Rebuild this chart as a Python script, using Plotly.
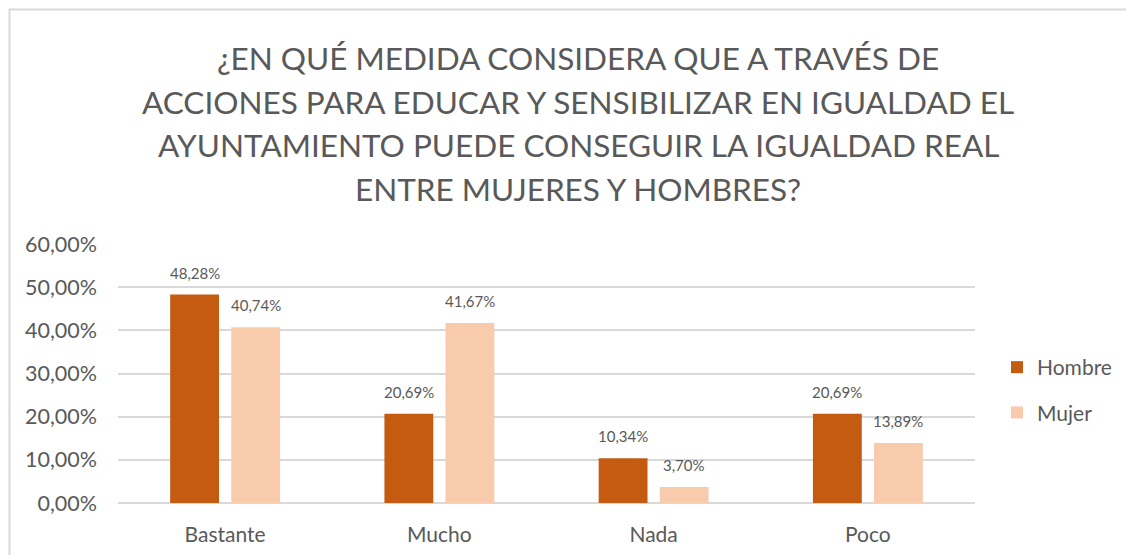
import plotly.graph_objects as go

categories = ["Bastante", "Mucho", "Nada", "Poco"]
hombre = [0.4828, 0.2069, 0.1034, 0.2069]
mujer = [0.4074, 0.4167, 0.0370, 0.1389]
series_names = ["Hombre", "Mujer"]
title_lines = [
    "¿EN QUÉ MEDIDA CONSIDERA QUE A TRAVÉS DE",
    "ACCIONES PARA EDUCAR Y SENSIBILIZAR EN IGUALDAD EL",
    "AYUNTAMIENTO PUEDE CONSEGUIR LA IGUALDAD REAL",
    "ENTRE MUJERES Y HOMBRES?",
]

# page body has an 8px margin; work in screenshot pixel coordinates
OX, OY = 8, 8
W, H = 1134 - OX, 555 - OY
PLOT_L, PLOT_R, PLOT_T, PLOT_B = 118, 975, 244, 503  # screenshot pixels
ML, MT = PLOT_L - OX, PLOT_T - OY
MR, MB = W - (PLOT_R - OX), H - (PLOT_B - OY)
PW, PH = PLOT_R - PLOT_L, PLOT_B - PLOT_T

def px_x(x):
    return (x - PLOT_L) / PW

def px_y(y):
    return (PLOT_B - y) / PH

FONT = "Lato"
GRAY = "#595959"
COLORS = ["#C55A11", "#F8CBAD"]

fig = go.Figure()
for name, vals, col in zip(series_names, [hombre, mujer], COLORS):
    fig.add_trace(go.Bar(name=name, x=categories, y=vals, marker_color=col,
                         marker_line_width=0, legendgroup=name))

annotations = []
for vals, shift in [(hombre, -30.5), (mujer, 30.5)]:
    for c, v in zip(categories, vals):
        annotations.append(dict(
            x=c, y=v, xref="x", yref="y", xshift=shift, yshift=11,
            yanchor="bottom", showarrow=False,
            text=f"{v*100:.2f}%".replace(".", ","),
            font=dict(family=FONT, size=15, color=GRAY)))

for i, line in enumerate(title_lines):
    annotations.append(dict(
        x=px_x(578), y=px_y(58 + 43.5 * i), xref="paper", yref="paper",
        xanchor="center", yanchor="middle", showarrow=False, text=line,
        font=dict(family=FONT, size=31.5, color=GRAY)))

fig.update_layout(
    width=W, height=H,
    margin=dict(l=ML, r=MR, t=MT, b=MB, autoexpand=False),
    paper_bgcolor="white", plot_bgcolor="white",
    separators=",.",
    barmode="group", bargap=0.43, bargroupgap=0.2,
    font=dict(family=FONT, color=GRAY),
    annotations=annotations,
    showlegend=True,
    legend=dict(x=px_x(997), y=px_y(390), xanchor="left", yanchor="middle",
                font=dict(family=FONT, size=21, color=GRAY),
                traceorder="grouped", tracegroupgap=15, bgcolor="rgba(0,0,0,0)"),
    shapes=[dict(type="rect", xref="paper", yref="paper",
                 x0=px_x(9.5), x1=px_x(1300), y0=px_y(700), y1=px_y(9.5),
                 line=dict(color="#D9D9D9", width=2), layer="below")],
)
fig.update_yaxes(range=[0, 0.6], dtick=0.1, tickformat=".2%",
                 showgrid=True, gridcolor="#D9D9D9", gridwidth=2,
                 zeroline=True, zerolinecolor="#D9D9D9", zerolinewidth=2,
                 showline=False, ticks="", ticklabelstandoff=20,
                 tickfont=dict(family=FONT, size=21.5, color=GRAY))
fig.update_xaxes(showline=False, ticks="", showgrid=False,
                 ticklabelstandoff=17,
                 tickfont=dict(family=FONT, size=21, color=GRAY))

fig.write_html("out.html")
